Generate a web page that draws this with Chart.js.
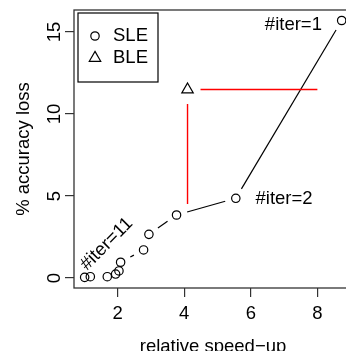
<!DOCTYPE html>
<html>
<head>
<meta charset="utf-8">
<script src="https://cdn.jsdelivr.net/npm/chart.js@4"></script>
<style>
  html, body { margin: 0; padding: 0; overflow: hidden; background: #fff; }
  #wrap { width: 360px; height: 351px; }
</style>
</head>
<body>
<div id="wrap"><canvas id="chart" width="360" height="351"></canvas></div>
<script>
// SLE runs, #iter=1 first, #iter=11 last
const sleSpeedup = [8.73, 5.55, 3.77, 2.94, 2.78, 2.09, 2.04, 1.94, 1.69, 1.18, 1.01];
const sleLoss = [15.70, 4.86, 3.84, 2.66, 1.71, 0.96, 0.43, 0.24, 0.08, 0.08, 0.04];

// BLE run
const bleSpeedup = [4.10];
const bleLoss = [11.49];

// red guide segments
const guideFromX = [4.10, 4.49];
const guideFromY = [4.51, 11.49];
const guideToX = [4.10, 8.00];
const guideToY = [10.61, 11.49];

// iteration notes
const iterText = ["#iter=1", "#iter=2", "#iter=11"];
const iterX = [7.28, 7.00, 1.67];
const iterY = [15.43, 4.82, 2.07];
const iterAngle = [0, 0, -45];

const xTicks = [2, 4, 6, 8];
const yTicks = [0, 5, 10, 15];

const FONT = "'Liberation Sans', Arial, Helvetica, sans-serif";
const FSIZE = 18.5;
Chart.defaults.font.family = FONT;
Chart.defaults.font.size = FSIZE;
Chart.defaults.color = "#000";

/* lines between points with a gap around each point (like R type="b") */
const gappedLines = {
  id: "gappedLines",
  beforeDatasetsDraw(chart) {
    const ctx = chart.ctx;
    const pts = chart.getDatasetMeta(0).data;
    const gap = 11;
    ctx.save();
    ctx.strokeStyle = "#000";
    ctx.lineWidth = 1.2;
    for (let i = 1; i < pts.length; i++) {
      const a = pts[i - 1], b = pts[i];
      const dx = b.x - a.x, dy = b.y - a.y;
      const d = Math.sqrt(dx * dx + dy * dy);
      if (d <= 2 * gap) continue;
      const ux = dx / d, uy = dy / d;
      ctx.beginPath();
      ctx.moveTo(a.x + ux * gap, a.y + uy * gap);
      ctx.lineTo(b.x - ux * gap, b.y - uy * gap);
      ctx.stroke();
    }
    // red guides
    const xs = chart.scales.x, ys = chart.scales.y;
    ctx.strokeStyle = "#ff0000";
    ctx.lineWidth = 1.4;
    guideFromX.forEach((v, i) => {
      ctx.beginPath();
      ctx.moveTo(xs.getPixelForValue(v), ys.getPixelForValue(guideFromY[i]));
      ctx.lineTo(xs.getPixelForValue(guideToX[i]), ys.getPixelForValue(guideToY[i]));
      ctx.stroke();
    });
    ctx.restore();
  },
  afterDraw(chart) {
    const ctx = chart.ctx;
    const area = chart.chartArea;
    const xs = chart.scales.x, ys = chart.scales.y;
    ctx.save();
    // plot box
    ctx.strokeStyle = "#333";
    ctx.lineWidth = 1.3;
    ctx.strokeRect(area.left, area.top, area.right - area.left, area.bottom - area.top);

    // notes
    ctx.fillStyle = "#000";
    ctx.font = FSIZE + "px " + FONT;
    ctx.textAlign = "center";
    ctx.textBaseline = "middle";
    iterText.forEach((t, i) => {
      ctx.save();
      ctx.translate(xs.getPixelForValue(iterX[i]), ys.getPixelForValue(iterY[i]));
      ctx.rotate(iterAngle[i] * Math.PI / 180);
      ctx.fillText(t, 0, 0);
      ctx.restore();
    });

    // legend, top left inside the box
    const lx = area.left + 4, ly = area.top + 3;
    ctx.strokeStyle = "#000";
    ctx.lineWidth = 1.2;
    ctx.strokeRect(lx, ly, 80, 69);
    ctx.textAlign = "left";
    chart.data.datasets.forEach((ds, i) => {
      const cy = ly + 23 + i * 22;
      ctx.fillStyle = "rgba(0,0,0,0)";
      Chart.helpers.drawPoint(ctx, {
        pointStyle: ds.pointStyle,
        radius: ds.pointRadius,
        borderWidth: 1.2
      }, lx + 17, cy);
      ctx.fillStyle = "#000";
      ctx.fillText(ds.label, lx + 35, cy);
    });
    ctx.restore();
  }
};

new Chart(document.getElementById("chart"), {
  type: "scatter",
  data: {
    datasets: [
      {
        label: "SLE",
        data: sleSpeedup.map((x, i) => ({ x: x, y: sleLoss[i] })),
        pointStyle: "circle",
        pointRadius: 4.2,
        borderColor: "#000",
        backgroundColor: "rgba(0,0,0,0)",
        borderWidth: 1.2
      },
      {
        label: "BLE",
        data: bleSpeedup.map((x, i) => ({ x: x, y: bleLoss[i] })),
        pointStyle: "triangle",
        pointRadius: 6.6,
        borderColor: "#000",
        backgroundColor: "rgba(0,0,0,0)",
        borderWidth: 1.2
      }
    ]
  },
  options: {
    responsive: false,
    animation: false,
    events: [],
    layout: { padding: { top: 10, right: 8, left: 0, bottom: 0 } },
    plugins: {
      legend: { display: false },
      tooltip: { enabled: false }
    },
    scales: {
      x: {
        type: "linear",
        min: 0.69,
        max: 9.04,
        afterBuildTicks: (s) => { s.ticks = xTicks.map(v => ({ value: v })); },
        afterFit: (s) => { s.height = 63; s.paddingLeft = 0; s.paddingRight = 0; },
        grid: { drawOnChartArea: false, drawTicks: true, tickLength: 9, color: "#333", lineWidth: 1.2 },
        border: { display: false },
        ticks: { padding: 6, maxRotation: 0, font: { size: FSIZE } },
        title: { display: true, text: "relative speed\u2212up", padding: { top: 0, bottom: -7 }, font: { size: FSIZE } }
      },
      y: {
        type: "linear",
        min: -0.61,
        max: 16.34,
        afterBuildTicks: (s) => { s.ticks = yTicks.map(v => ({ value: v })); },
        afterFit: (s) => { s.width = 74; s.paddingTop = 0; s.paddingBottom = 0; },
        grid: { drawOnChartArea: false, drawTicks: true, tickLength: 9, color: "#333", lineWidth: 1.2 },
        border: { display: false },
        ticks: { padding: 0, minRotation: 90, maxRotation: 90, crossAlign: "center", font: { size: FSIZE } },
        title: { display: true, text: "% accuracy loss", padding: { top: 13, bottom: 0 }, font: { size: FSIZE } }
      }
    }
  },
  plugins: [gappedLines]
});
</script>
</body>
</html>
